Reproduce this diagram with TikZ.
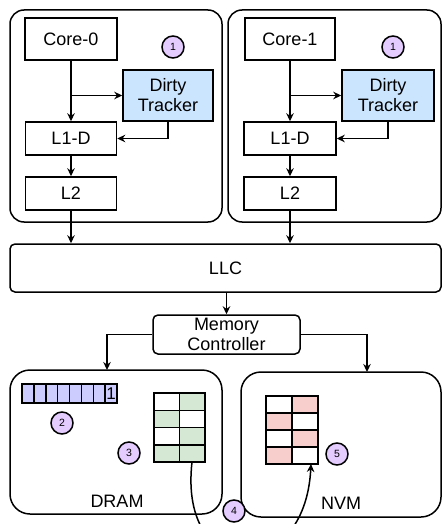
\documentclass[tikz,border=0pt]{standalone}
\usepackage{fontspec}
\setmainfont{Liberation Sans}
\usetikzlibrary{arrows.meta,calc}
\definecolor{dtblue}{HTML}{CCE5FF}
\definecolor{numpurple}{HTML}{E5CCFF}
\definecolor{bitblue}{HTML}{CCCCFF}
\definecolor{cellgreen}{HTML}{D5E8D4}
\definecolor{cellred}{HTML}{F8CECC}
\begin{document}
\begin{tikzpicture}[x=1pt,y=-1pt,
  lw/.style={line width=1.5pt},
  txt/.style={font=\fontsize{18}{20}\selectfont},
  region/.style={draw,lw,rounded corners=14pt,inner sep=0pt},
  blk/.style={draw,lw,inner sep=0pt,txt,align=center},
  rblk/.style={draw,lw,inner sep=0pt,txt,align=center,rounded corners=5pt},
  num/.style={draw,lw,circle,fill=numpurple,minimum size=22pt,inner sep=0pt,font=\fontsize{10.5}{10.5}\selectfont},
  arr/.style={lw,-{Stealth[length=8pt,width=7.5pt]}},
  cell/.style={draw,lw}
]
\useasboundingbox (0,0) rectangle (442,524);

% core regions
\node[region,minimum width=212pt,minimum height=212pt] (reg0) at (116,116) {};
\node[region,minimum width=213pt,minimum height=212pt] (reg1) at (334.5,116) {};

% core 0
\node[blk,minimum width=92pt,minimum height=42pt] (core0) at (71,39) {Core-0};
\node[blk,fill=dtblue,minimum width=90pt,minimum height=51pt] (dt0) at (168,95.5) {Dirty\\Tracker};
\node[blk,minimum width=91pt,minimum height=33pt] (l10) at (71,138.5) {L1-D};
\node[blk,minimum width=91pt,minimum height=33pt] (l20) at (71,193.5) {L2};
\node[num] (n1a) at (173,47) {1};

% core 1
\node[blk,minimum width=90pt,minimum height=42pt] (core1) at (290,39) {Core-1};
\node[blk,fill=dtblue,minimum width=92pt,minimum height=51pt] (dt1) at (388,95.5) {Dirty\\Tracker};
\node[blk,minimum width=92pt,minimum height=33pt] (l11) at (290,138.5) {L1-D};
\node[blk,minimum width=92pt,minimum height=33pt] (l21) at (290,193.5) {L2};
\node[num] (n1b) at (393,47) {1};

% LLC and memory controller
\node[rblk,minimum width=431pt,minimum height=48pt] (llc) at (225.5,268) {LLC};
\node[rblk,minimum width=147pt,minimum height=39pt] (mc) at (226.5,334.5) {};
\node[txt,align=center,inner sep=0pt] (mctext) at (226.5,334) {Memory\\Controller};

% memories
\node[region,rounded corners=20pt,minimum width=212pt,minimum height=144pt] (dram) at (116,442) {};
\node[region,rounded corners=20pt,minimum width=200pt,minimum height=145pt] (nvm) at (341,444.5) {};
\node[txt,inner sep=0pt] (dramlbl) at (117,501) {DRAM};
\node[txt,inner sep=0pt] (nvmlbl) at (341,503) {NVM};

% bitmap
\foreach \i in {0,...,7} {
  \draw[cell,fill=bitblue] ({22+\i*11.875},384) rectangle ({22+(\i+1)*11.875},403);
}
\node[font=\fontsize{17}{17}\selectfont,inner sep=0pt] (bit1) at (111.1,393.5) {1};

% green grid (DRAM)
\foreach \r/\a/\b in {0/white/cellgreen,1/cellgreen/white,2/white/cellgreen,3/cellgreen/cellgreen} {
  \draw[cell,fill=\a] (154,{393+\r*17.25}) rectangle (179.5,{393+(\r+1)*17.25});
  \draw[cell,fill=\b] (179.5,{393+\r*17.25}) rectangle (205,{393+(\r+1)*17.25});
}
% red grid (NVM)
\foreach \r/\a/\b in {0/white/cellred,1/cellred/white,2/white/cellred,3/cellred/white} {
  \draw[cell,fill=\a] (266,{396+\r*17}) rectangle (292,{396+(\r+1)*17});
  \draw[cell,fill=\b] (292,{396+\r*17}) rectangle (318,{396+(\r+1)*17});
}
\coordinate (gsrc) at (192,462);
\coordinate (rdst) at (311,464);

% numbered markers
\node[num] (n2) at (62,423) {2};
\node[num] (n3) at (129,453) {3};
\node[num] (n5) at (337,454) {5};

% connectors in cores
\coordinate (b0) at (71,95.5);
\coordinate (b1) at (290,95.5);
\draw[arr] (core0.south) -- (l10.north);
\draw[arr] (b0) -- (dt0.west);
\draw[arr] (dt0.south) |- (l10.east);
\draw[arr] (l10.south) -- (l20.north);
\draw[arr] (l20.south) -- (l20.south |- llc.north);

\draw[arr] (core1.south) -- (l11.north);
\draw[arr] (b1) -- (dt1.west);
\draw[arr] (dt1.south) |- (l11.east);
\draw[arr] (l11.south) -- (l21.north);
\draw[arr] (l21.south) -- (l21.south |- llc.north);

\draw[arr] (llc.south -| mc.north) -- (mc.north);
\coordinate (dramin) at (107,370);
\coordinate (nvmin) at (367,372);
\draw[arr] (mc.west) -| (dramin);
\draw[arr] (mc.east) -| (nvmin);

% migration curve
\begin{scope}
\clip (0,0) rectangle (442,524);
\draw[arr] (gsrc) .. controls (178,585) and (305,585) .. (rdst);
\end{scope}
\node[num] (n4) at (234,511) {4};
\end{tikzpicture}
\end{document}
